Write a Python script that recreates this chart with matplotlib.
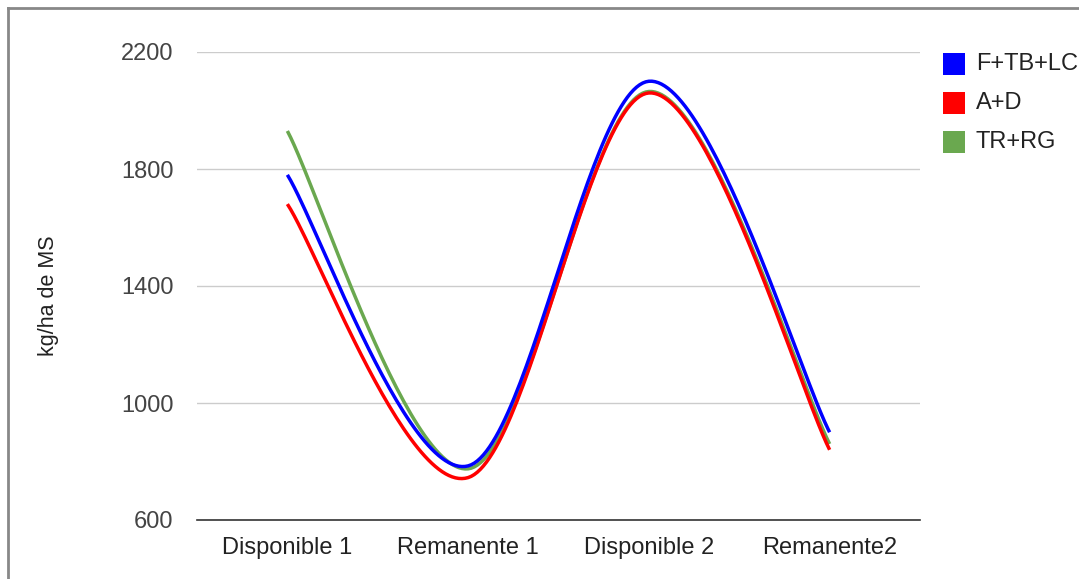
import numpy as np
import matplotlib.pyplot as plt
from matplotlib.patches import Rectangle

plt.rcParams['font.family'] = ['Liberation Sans', 'DejaVu Sans']

categories = ['Disponible 1', 'Remanente 1', 'Disponible 2', 'Remanente2']
series_names = ['F+TB+LC', 'A+D', 'TR+RG']
ftblc = [1780, 785, 2100, 900]
ad = [1680, 745, 2060, 840]
trrg = [1930, 775, 2065, 860]
colors = ['#0000ff', '#ff0000', '#6aa84f']
y_ticks = [600, 1000, 1400, 1800, 2200]


def smooth(xs, ys, s=1 / 6.0, n=60):
    # cubic bezier through each pair of points (catmull-rom style control points)
    p = np.column_stack([xs, ys]).astype(float)
    pts = []
    for i in range(len(p) - 1):
        prev = p[max(i - 1, 0)]
        nxt = p[min(i + 2, len(p) - 1)]
        c1 = p[i] + (p[i + 1] - prev) * s
        c2 = p[i + 1] - (nxt - p[i]) * s
        t = np.linspace(0, 1, n)[:, None]
        seg = ((1 - t) ** 3 * p[i] + 3 * (1 - t) ** 2 * t * c1
               + 3 * (1 - t) * t ** 2 * c2 + t ** 3 * p[i + 1])
        pts.append(seg if i == 0 else seg[1:])
    pts = np.vstack(pts)
    return pts[:, 0], pts[:, 1]


fig = plt.figure(figsize=(10.79, 5.79), dpi=100)
ax = fig.add_axes([197 / 1079, 1 - 520 / 579, 723 / 1079, 468 / 579])

x = np.arange(len(categories))
for vals, col in zip([ftblc, ad, trrg][::-1], colors[::-1]):
    sx, sy = smooth(x, vals)
    ax.plot(sx, sy, color=col, lw=2.5, solid_capstyle='butt', clip_on=False)

ax.set_xlim(-0.5, len(categories) - 0.5)
ax.set_ylim(600, 2200)
ax.set_yticks(y_ticks)
ax.set_xticks(x)
ax.set_xticklabels(categories)
ax.grid(axis='y', color='#cccccc', lw=1)
ax.set_axisbelow(True)
for side in ['top', 'right', 'left']:
    ax.spines[side].set_visible(False)
ax.spines['bottom'].set_color('#333333')
ax.spines['bottom'].set_linewidth(1.2)
ax.tick_params(axis='both', length=0, labelsize=17, labelcolor='#444444')
ax.tick_params(axis='y', pad=17)
ax.tick_params(axis='x', pad=12, labelcolor='#222222')
ax.set_ylabel('kg/ha de MS', fontsize=15.5, color='#222222')
ax.yaxis.set_label_coords(-(197 - 59) / 723, (520 - 296) / 468)

# legend on the right
for i, (name, col) in enumerate(zip(series_names, colors)):
    yc = 1 - (64 + 39 * i) / 579
    fig.add_artist(Rectangle((943 / 1079, yc - 11 / 579), 22 / 1079, 22 / 579,
                             transform=fig.transFigure, facecolor=col,
                             edgecolor='none'))
    fig.text(976 / 1079, yc, name, fontsize=17, color='#222222', va='center')

# gray frame along the top and left edges
fig.add_artist(plt.Line2D([8 / 1079, 1.0], [1 - 8 / 579, 1 - 8 / 579],
                          transform=fig.transFigure, color='#888888', lw=2))
fig.add_artist(plt.Line2D([8 / 1079, 8 / 1079], [0.0, 1 - 8 / 579],
                          transform=fig.transFigure, color='#888888', lw=2))

fig.savefig('out.png', dpi=100)
